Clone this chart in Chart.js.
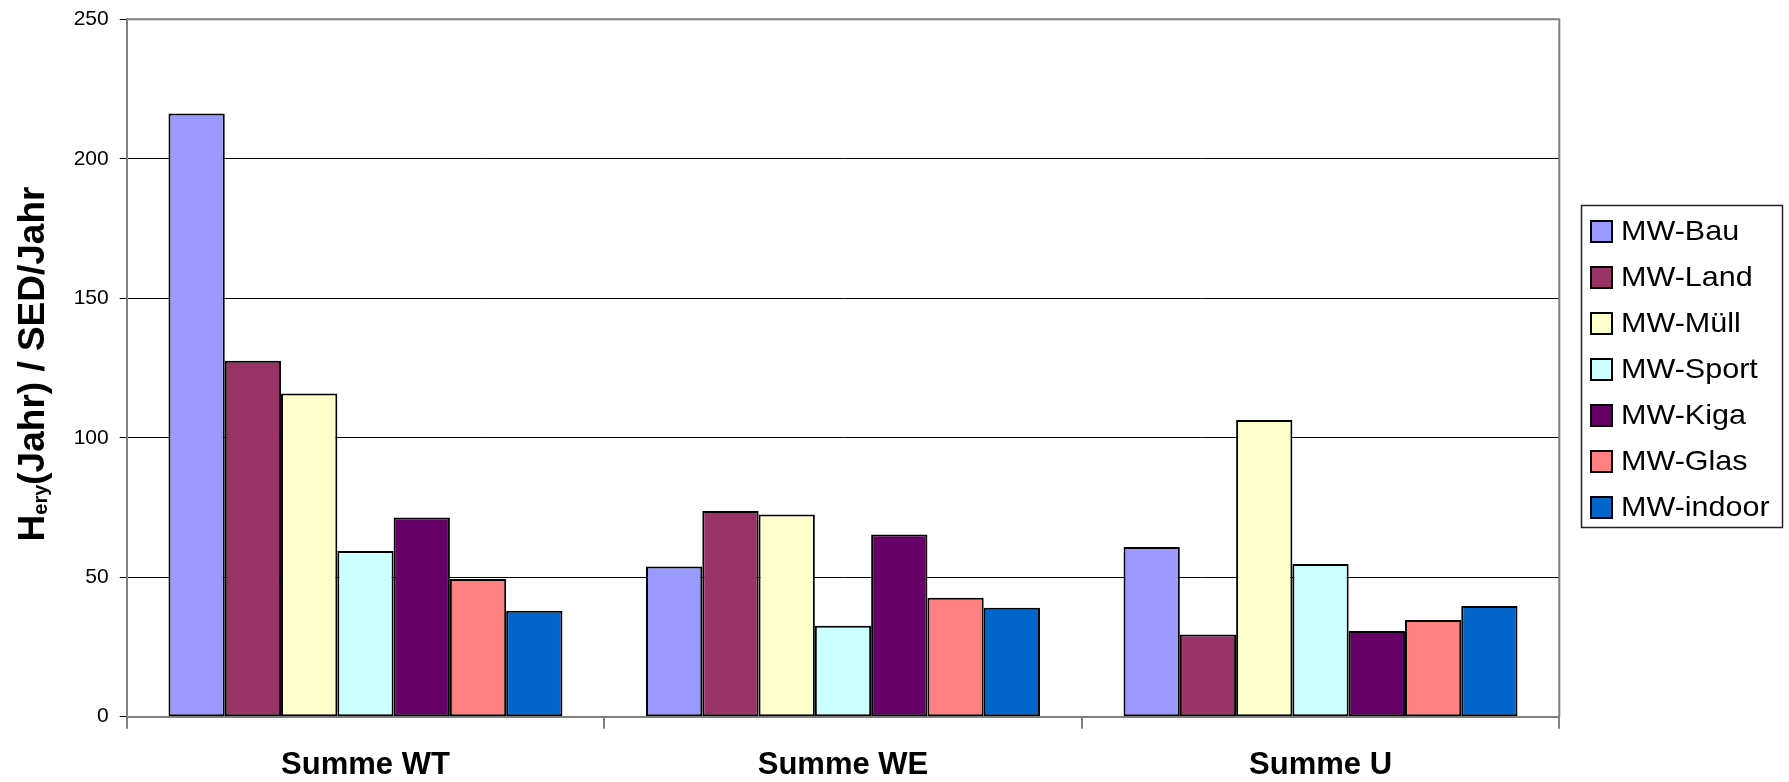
<!DOCTYPE html>
<html>
<head>
<meta charset="utf-8">
<script src="https://cdn.jsdelivr.net/npm/chart.js@4.4.1/dist/chart.umd.min.js"></script>
<style>
  html, body { margin: 0; padding: 0; background: #ffffff; }
  #wrap { width: 1789px; height: 782px; }
</style>
</head>
<body>
<div id="wrap"><canvas id="c" width="1789" height="782"></canvas></div>
<script>
// Categories on the x axis
const categories = ['Summe WT', 'Summe WE', 'Summe U'];

// Series names and values (one value per category)
const seriesNames = ['MW-Bau', 'MW-Land', 'MW-Müll', 'MW-Sport', 'MW-Kiga', 'MW-Glas', 'MW-indoor'];
const mwBau    = [216.2, 53.8, 60.8];
const mwLand   = [127.6, 73.7, 29.5];
const mwMuell  = [115.9, 72.5, 106.4];
const mwSport  = [59.4, 32.6, 54.7];
const mwKiga   = [71.4, 65.3, 30.7];
const mwGlas   = [49.4, 42.6, 34.7];
const mwIndoor = [38.0, 39.1, 39.7];

// Y axis tick values
const yTicks = [0, 50, 100, 150, 200, 250];

const seriesValues = [mwBau, mwLand, mwMuell, mwSport, mwKiga, mwGlas, mwIndoor];
const seriesColors = ['#9999FF', '#993366', '#FFFFCC', '#CCFFFF', '#660066', '#FF8080', '#0066CC'];

const FONT = '"Liberation Sans", Arial, sans-serif';

// Gray frame on the top and right of the plot area
const plotFrame = {
  id: 'plotFrame',
  beforeDatasetsDraw(chart) {
    const { ctx, chartArea: a } = chart;
    ctx.save();
    ctx.strokeStyle = '#808080';
    ctx.lineWidth = 2;
    ctx.beginPath();
    ctx.moveTo(a.left, a.top);
    ctx.lineTo(a.right, a.top);
    ctx.lineTo(a.right, a.bottom);
    ctx.stroke();
    ctx.restore();
  }
};

// Rotated y axis title with subscript
const yTitle = {
  id: 'yTitle',
  afterDraw(chart) {
    const ctx = chart.ctx;
    const mainSize = 37, subSize = 20;
    ctx.save();
    ctx.translate(43.5, 364);
    ctx.rotate(-Math.PI / 2);
    ctx.fillStyle = '#000';
    ctx.textBaseline = 'alphabetic';
    const parts = [
      { t: 'H', size: mainSize, dy: 0 },
      { t: 'ery', size: subSize, dy: 3 },
      { t: '(Jahr) / SED/Jahr', size: mainSize, dy: 0 }
    ];
    let total = 0;
    parts.forEach(p => { ctx.font = 'bold ' + p.size + 'px ' + FONT; p.w = ctx.measureText(p.t).width; total += p.w; });
    let x = -total / 2;
    parts.forEach(p => {
      ctx.font = 'bold ' + p.size + 'px ' + FONT;
      ctx.fillText(p.t, x, p.dy);
      x += p.w;
    });
    ctx.restore();
  }
};

// Framed legend to the right of the plot
const sideLegend = {
  id: 'sideLegend',
  afterDraw(chart) {
    const ctx = chart.ctx;
    const box = { x: 1581.5, y: 205.5, w: 201, h: 322 };
    ctx.save();
    ctx.fillStyle = '#ffffff';
    ctx.fillRect(box.x, box.y, box.w, box.h);
    ctx.strokeStyle = '#222';
    ctx.lineWidth = 1.5;
    ctx.strokeRect(box.x, box.y, box.w, box.h);
    ctx.textBaseline = 'middle';
    chart.data.datasets.forEach((ds, i) => {
      const cy = 231 + i * 46;
      ctx.fillStyle = ds.backgroundColor;
      ctx.fillRect(1591, cy - 10, 21, 21);
      ctx.strokeStyle = '#000';
      ctx.lineWidth = 2;
      ctx.strokeRect(1591, cy - 10, 21, 21);
      ctx.save();
      ctx.translate(1621, cy + 1);
      ctx.scale(1.09, 1);
      ctx.font = '28px ' + FONT;
      ctx.fillStyle = '#000';
      ctx.fillText(ds.label, 0, 0);
      ctx.restore();
    });
    ctx.restore();
  }
};

new Chart(document.getElementById('c'), {
  type: 'bar',
  data: {
    labels: categories,
    datasets: seriesNames.map((name, i) => ({
      label: name,
      data: seriesValues[i],
      backgroundColor: seriesColors[i],
      borderColor: '#000000',
      borderWidth: 2,
      borderSkipped: false,
      categoryPercentage: 0.825,
      barPercentage: 1.0
    }))
  },
  options: {
    responsive: false,
    devicePixelRatio: 1,
    animation: false,
    layout: { padding: { left: 0, right: 229.7, top: 19.3, bottom: 0 } },
    plugins: { legend: { display: false }, tooltip: { enabled: false } },
    scales: {
      x: {
        grid: { offset: true, drawOnChartArea: false, drawTicks: true, tickLength: 12, color: '#808080', lineWidth: 2 },
        border: { color: '#808080', width: 2 },
        ticks: { color: '#000', font: { family: FONT, size: 31, weight: 'bold' }, padding: 18, maxRotation: 0 },
        afterFit(scale) {
          scale.height = 782 - 716.7;
          scale.paddingLeft = 0;
          scale.paddingRight = 0;
        }
      },
      y: {
        min: 0,
        max: 250,
        afterBuildTicks(scale) { scale.ticks = yTicks.map(v => ({ value: v })); },
        grid: { color: '#000', lineWidth: 1, tickLength: 7, tickColor: '#000' },
        border: { color: '#808080', width: 2 },
        ticks: { color: '#000', font: { family: FONT, size: 21 }, padding: 11 },
        afterFit(scale) {
          scale.width = 126.7;
          scale.paddingTop = 0;
          scale.paddingBottom = 0;
        }
      }
    }
  },
  plugins: [plotFrame, yTitle, sideLegend]
});
</script>
</body>
</html>
